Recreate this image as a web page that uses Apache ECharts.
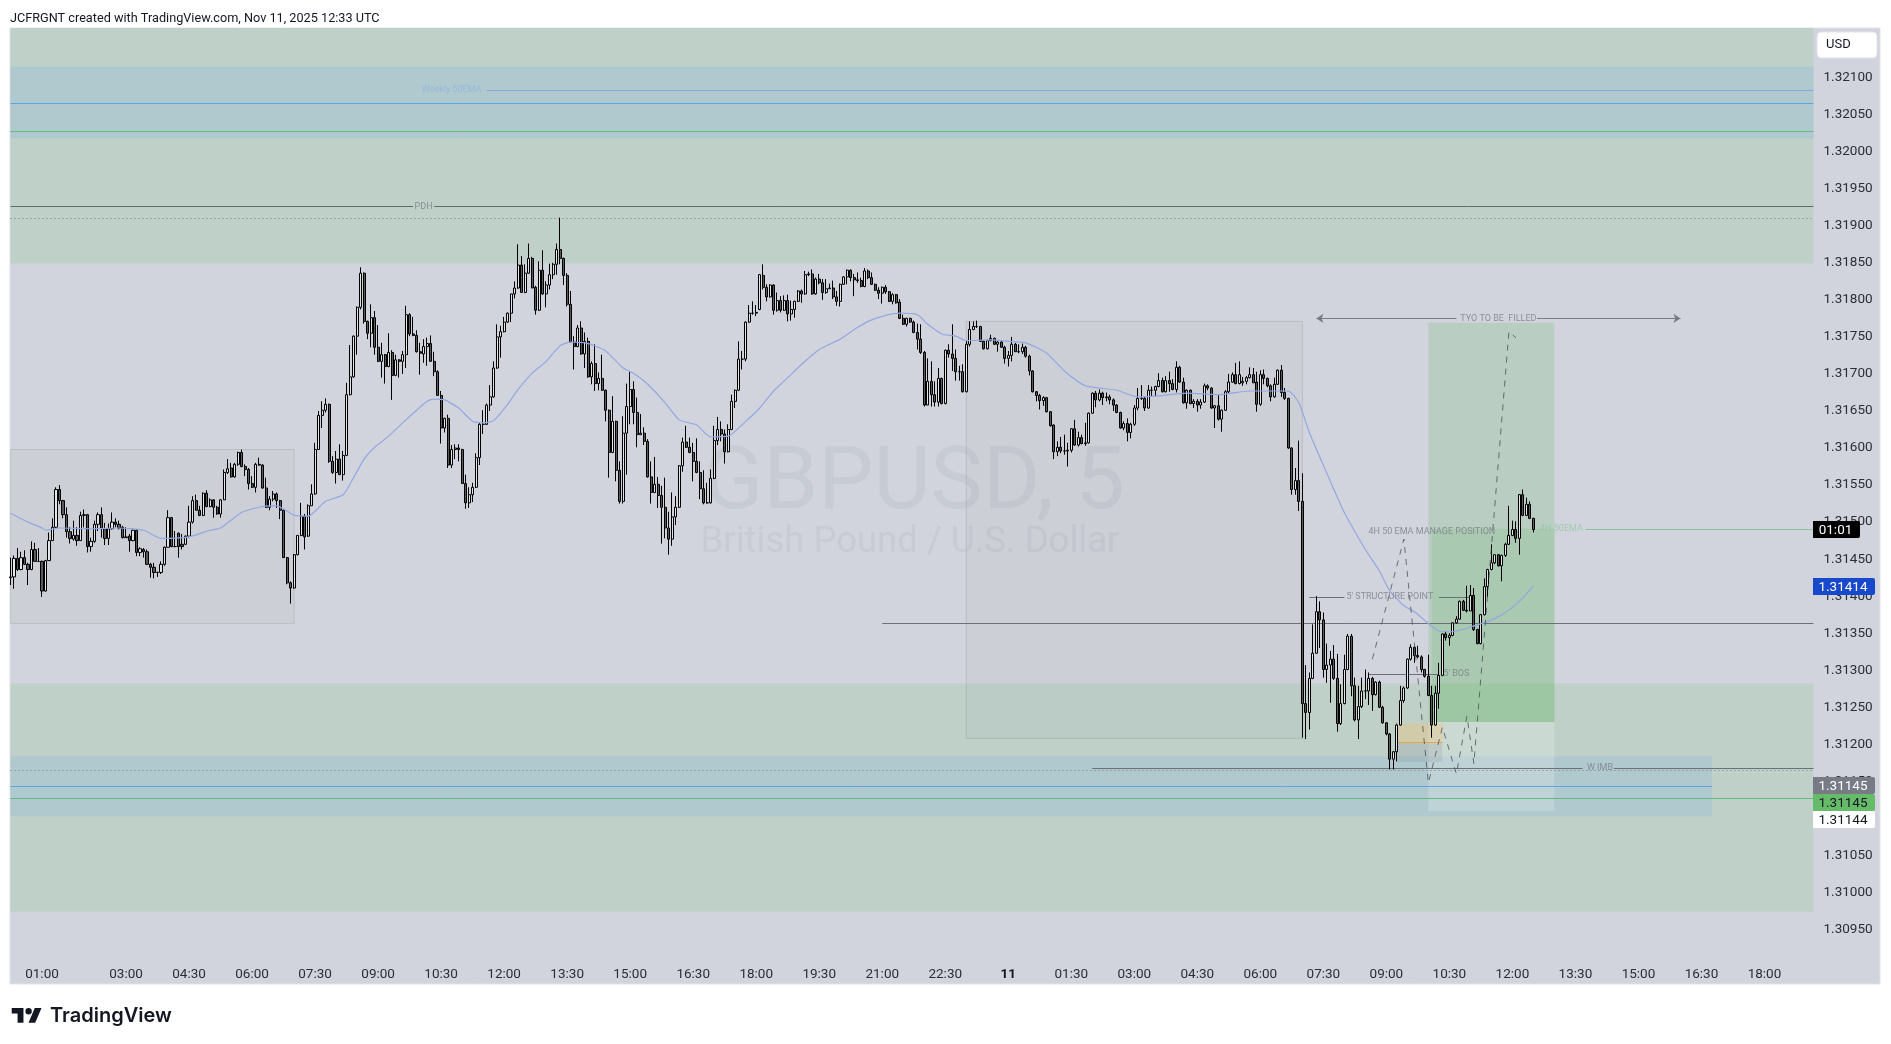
<!DOCTYPE html>
<html>
<head>
<meta charset="utf-8">
<style>html,body{margin:0;padding:0;background:#fff}#chart{width:1891px;height:1044px}</style>
<script src="https://cdn.jsdelivr.net/npm/echarts@6/dist/echarts.min.js"></script>
</head>
<body>
<div id="chart"></div>
<script>
// All prices below are points (0.00001) above this base price.
const PRICE_BASE = 1.31;
// Candle rows: [open, high, low, close]
const candlesMonEarly = [
[425,452,415,426],[426,455,410,451],[451,465,434,436],[436,460,435,452],[452,462,442,443],[443,445,415,436],[436,474,435,463],[463,472,447,447],[447,465,446,447],[447,448,399,407],
[407,449,406,448],[448,486,448,475],[475,505,475,493],[493,547,492,544],[544,550,524,529],[529,530,505,510],[510,520,479,487],[487,493,471,478],[477,502,475,482],[482,493,468,475],
[475,514,475,509],[509,517,493,510],[510,511,459,467],[467,479,460,474],[474,502,472,497],[497,513,488,510],[510,520,479,491],[491,499,469,478],[478,498,469,491],[491,513,490,500],
[500,505,493,497],[497,502,490,492],[493,495,478,479],[479,493,479,480],[481,484,460,475],[475,490,474,489],[489,490,454,459],[459,466,454,464],[463,465,452,460],[460,463,442,443],
[443,445,425,439],[439,445,424,432],[432,433,426,432],[432,447,430,443],[443,467,441,466],[466,516,466,506],[506,507,466,467],[467,488,466,467],[485,486,452,467],[470,484,463,467],
[470,482,469,481],[481,522,479,500],[500,535,498,529],[529,537,516,516],[516,522,508,509],[509,540,508,539],[539,543,520,521],[521,532,520,530],[530,531,506,520],[520,522,510,511],
[511,531,506,530],[530,571,530,567],[567,585,565,572],[573,580,560,561],[561,580,560,578],[578,595,576,594],[594,598,574,575],[575,578,562,571],[571,573,544,552],[552,562,546,547],
[547,580,540,578]];
const candlesMonMorning = [
[578,587,576,577],[577,578,545,546],[546,560,519,520],[520,535,516,531],[531,542,528,538],[538,540,519,529],[529,530,504,516],[516,517,452,452],[452,453,416,418],[418,420,390,411],
[411,457,410,456],[456,482,455,482],[482,526,481,508],[508,511,463,480],[481,524,480,522],[522,551,522,538],[538,607,537,598],[598,650,598,644],[644,663,627,651],[651,667,648,659],
[659,660,580,582],[582,589,565,567],[567,596,552,585],[585,605,564,564],[564,596,556,590],[590,688,589,672],[672,739,671,696],[696,752,695,751],[751,791,726,790],[790,844,787,836],
[836,837,768,771],[771,772,747,755],[755,794,736,776],[776,785,726,736],[736,766,716,717],[717,742,695,726],[726,727,687,710],[710,755,709,729],[729,732,665,698],[698,726,697,719],
[719,720,695,717],[717,731,700,726],[726,792,708,780],[780,782,751,754],[754,777,751,752],[752,759,729,730],[730,742,699,728],[727,747,715,737],[737,749,711,741],[741,752,717,717],
[717,730,697,703],[703,705,671,671],[671,677,606,627],[627,641,621,640],[640,645,573,577],[577,604,573,598],[598,605,585,600],[600,605,582,598],[598,599,552,552],[552,564,518,526],
[526,547,519,537],[537,553,527,547],[547,593,546,587],[587,634,577,632],[632,651,619,632],[632,660,631,658],[658,685,650,669],[669,717,668,708],[708,767,707,750],[750,765,722,757],
[757,777,756,770],[770,783,769,782]];
const candlesMonMidday = [
[782,808,770,808],[808,825,802,816],[816,875,815,847],[847,859,810,810],[810,848,809,836],[836,876,835,856],[856,858,816,816],[817,819,780,786],[786,852,785,840],[840,867,807,808],
[808,825,790,820],[820,849,814,834],[834,850,828,848],[848,876,834,868],[868,911,848,856],[856,857,820,833],[833,836,791,794],[794,812,742,743],[743,751,706,737],[737,766,736,762],
[762,771,726,727],[727,756,708,744],[744,749,695,696],[696,717,686,714],[714,740,677,687],[687,702,678,694],[694,726,677,678],[678,679,636,651],[651,652,560,594],[594,670,593,636],
[636,637,555,570],[570,582,525,528],[528,643,525,620],[620,687,564,656],[656,703,632,679],[679,690,632,648],[648,668,601,618],[618,646,618,620],[620,628,604,609],[609,612,560,561],
[561,582,525,540],[540,588,539,551],[551,561,519,536],[536,549,471,520],[520,560,478,492],[492,514,456,477],[477,540,468,507],[507,535,496,520],[520,577,519,576],[576,614,568,608],
[608,630,600,601],[601,614,593,594],[594,607,555,582],[582,613,566,567],[567,582,531,545],[545,570,524,526],[526,553,525,526],[526,571,525,559],[559,630,558,610],[610,642,604,625],
[625,636,609,619],[619,625,579,595],[595,632,594,625],[625,672,624,663],[663,679,654,678],[678,744,677,720],[720,731,706,720],[720,771,717,770],[770,793,769,782],[782,798,780,782],
[782,793,778,783]];
const candlesMonEvening = [
[787,835,786,834],[833,848,814,817],[817,821,798,804],[804,821,803,820],[820,821,780,786],[786,810,784,799],[799,805,783,786],[786,806,785,799],[799,807,771,781],[781,799,772,787],
[787,799,776,798],[798,813,797,812],[812,814,796,808],[808,839,807,834],[834,838,832,835],[835,841,807,808],[808,830,807,828],[828,835,821,823],[823,828,800,810],[810,828,808,815],
[815,822,815,816],[816,826,801,804],[804,812,792,798],[798,822,791,821],[821,832,820,831],[831,841,821,840],[840,841,825,830],[830,835,805,827],[827,837,823,826],[826,830,817,818],
[818,843,817,839],[839,841,828,830],[830,837,820,821],[821,822,812,813],[813,817,801,809],[809,818,795,817],[817,820,808,811],[811,812,797,798],[798,809,794,807],[807,808,795,796],
[797,801,774,775],[775,780,766,767],[767,776,764,775],[775,776,769,770],[770,772,755,756],[756,768,733,747],[747,767,727,729],[729,731,656,658],[658,721,658,690],[690,717,656,672],
[672,690,656,662],[662,708,656,694],[694,695,659,660],[660,733,659,732],[732,740,722,727],[727,767,704,721],[721,733,691,703],[703,711,691,703],[703,713,675,676],[676,745,675,740],
[740,771,737,760],[760,771,759,764],[764,772,762,764],[764,765,743,744],[744,745,733,734],[734,746,733,745],[745,753,744,748],[748,749,739,740],[740,744,730,743],[743,745,735,736],
[736,738,714,721]];
const candlesTueNight = [
[721,731,710,725],[725,750,717,740],[740,742,730,730],[730,740,728,730],[730,741,727,736],[736,738,722,724],[724,726,698,704],[704,705,675,676],[676,677,663,671],[671,673,652,664],
[664,670,657,668],[668,669,648,649],[649,650,629,630],[631,632,585,595],[595,609,589,601],[601,615,593,596],[596,618,591,596],[596,607,575,597],[597,627,594,626],[626,638,603,604],
[604,622,602,614],[614,618,605,606],[606,634,603,607],[607,648,606,647],[647,675,646,674],[674,677,655,665],[665,679,663,674],[674,676,658,668],[668,675,663,669],[669,672,659,665],
[665,667,650,658],[658,659,647,648],[648,649,626,627],[627,636,624,633],[633,640,609,621],[621,634,613,632],[632,658,630,654],[654,681,651,667],[667,685,665,667],[667,670,650,654],
[654,685,653,678],[678,683,669,678],[678,684,670,683],[683,701,682,691],[691,695,675,676],[676,697,675,691],[691,703,676,687],[687,693,678,679],[679,717,675,709],[709,711,688,689],
[689,695,660,661],[661,679,653,678],[678,679,659,660],[660,666,654,663],[663,666,649,658],[658,666,653,662],[662,687,661,684],[684,686,678,681],[681,682,653,654],[654,658,627,657],
[657,672,637,639],[639,652,622,651],[651,678,650,676],[676,700,673,689],[689,702,688,699],[699,715,686,687],[687,717,686,699],[688,696,684,690],[690,697,686,695],[695,709,694,699],
[699,708,688,688],[689,703,649,659],[659,705,657,699],[699,706,686,694],[694,695,682,684],[684,686,663,669],[669,695,668,686],[686,706,685,705],[705,712,669,675],[675,681,665,667],
[667,668,599,600]];
const candlesTueMorning = [
[600,601,537,544],[544,573,537,556],[556,610,515,528],[528,566,209,255],[255,307,207,243],[243,297,220,289],[289,362,288,323],[323,400,322,379],[379,393,330,368],[368,378,290,301],
[301,336,283,307],[307,326,256,315],[315,334,287,289],[289,322,217,228],[228,281,226,255],[255,321,254,301],[301,349,300,346],[346,349,265,279],[279,290,231,233],[233,279,207,251],
[251,290,249,272],[272,301,261,272],[272,297,253,289],[289,291,245,267],[267,285,266,284],[284,286,249,250],[250,252,228,229],[229,230,212,214],[214,215,166,180],[180,191,166,190],
[190,228,177,226],[226,279,225,259],[259,278,256,276],[276,316,275,315],[315,335,313,331],[331,332,310,320],[320,333,316,318],[318,320,297,301],[301,302,290,292],[292,321,265,266],
[266,279,209,226],[226,279,225,269],[269,310,248,293],[293,350,292,349],[349,353,340,344],[344,350,333,347],[347,365,346,364],[364,373,363,369],[369,394,368,393],[393,395,380,381],
[381,414,378,380],[380,415,380,401],[401,411,353,355],[355,356,335,336],[336,376,335,375],[375,424,374,413],[413,437,399,436],[436,470,435,445],[445,456,443,456],[456,457,440,441],
[441,456,420,455],[455,472,453,470],[470,522,469,482],[482,502,481,490],[490,501,472,478],[478,538,456,537],[537,544,508,509],[509,533,508,524],[524,528,504,505],[505,506,486,490]];

// Moving average: [bar number, points above base]
const emaPoints = [[0,512],[5,500],[9,492],[10,489],[14,492],[23,491],[31,492],[38,489],[43,478],[51,480],[57,489],[60,492],[66,513],[71,520],[74,522],[76,522],[79,515],[81,509],[85,508],[90,528],[95,537],[98,560],[101,585],[104,601],[108,616],[112,634],[116,651],[119,663],[121,666],[124,665],[128,654],[132,636],[135,634],[138,637],[142,659],[145,679],[149,701],[153,717],[157,738],[160,743],[165,741],[170,731],[175,708],[178,701],[182,686],[187,661],[191,638],[196,631],[200,615],[205,616],[210,636],[214,654],[218,677],[222,695],[226,713],[231,733],[237,747],[241,760],[245,771],[250,779],[254,782],[259,780],[262,767],[266,754],[270,751],[273,745],[280,746],[285,744],[290,742],[296,728],[301,704],[307,684],[316,678],[322,669],[327,670],[336,674],[345,672],[354,677],[365,677],[368,661],[371,621],[377,555],[381,513],[387,463],[391,434],[394,407],[398,387],[401,379],[404,367],[408,353],[412,352],[418,360],[422,366],[426,375],[431,393],[435,414]];
// Dashed projected path drawn on the chart: [bar number, points above base]
const projectionPoints = [[389,315],[398,477],[405,148],[409,223],[413,160],[416,238],[418,174],[428,757],[430,749]];

const timeTicks = ["10 01:00","10 03:00","10 04:30","10 06:00","10 07:30","10 09:00","10 10:30","10 12:00","10 13:30","10 15:00","10 16:30","10 18:00","10 19:30","10 21:00","10 22:30","11 00:00","11 01:30","11 03:00","11 04:30","11 06:00","11 07:30","11 09:00","11 10:30","11 12:00","11 13:30","11 15:00","11 16:30","11 18:00"];
const priceTicks = [1.30950,1.31000,1.31050,1.31100,1.31150,1.31200,1.31250,1.31300,1.31350,1.31400,1.31450,1.31500,1.31550,1.31600,1.31650,1.31700,1.31750,1.31800,1.31850,1.31900,1.31950,1.32000,1.32050,1.32100];

const FIRST = "10 00:15", LAST = "11 19:10";
// Price zones: [kind, from, to, high, low]
const zoneRows = [
 ["supply", FIRST, LAST, 1167, 849],
 ["band", FIRST, LAST, 1115, 1018],
 ["demand", FIRST, LAST, 282, -26],
 ["band", FIRST, "11 16:45", 184, 103],
 ["box", FIRST, "10 07:00", 598, 363],
 ["box", "10 23:00", "11 07:00", 771, 208],
 ["long", "11 10:00", "11 13:00", 769, 230],
 ["longActive", "11 10:05", "11 13:00", 491, 230],
 ["short", "11 10:00", "11 13:00", 230, 110],
 ["orderBlock", "11 09:15", "11 10:20", 228, 203],
 ["orderBlockLow", "11 09:15", "11 10:20", 203, 176]
];
// Horizontal levels: [kind, from, to, price]
const levelRows = [
 ["weekly", "10 11:35", LAST, 1083],
 ["blue", FIRST, LAST, 1065],
 ["green", FIRST, LAST, 1028],
 ["dark", FIRST, "10 09:50", 926],
 ["dark", "10 10:20", LAST, 926],
 ["dots", FIRST, LAST, 910],
 ["grey", "10 21:00", LAST, 363],
 ["ema4h", "11 13:45", LAST, 491],
 ["grey", "11 07:10", "11 08:00", 399],
 ["grey", "11 10:15", "11 11:00", 399],
 ["grey", "11 08:35", "11 10:15", 295],
 ["yellow", "11 09:15", "11 10:20", 203],
 ["grey", "11 02:00", "11 13:40", 168],
 ["grey", "11 14:25", LAST, 168],
 ["dots", FIRST, LAST, 165],
 ["blue", FIRST, "11 16:45", 143],
 ["green", FIRST, LAST, 127]
];
// Arrowed span: [from, to, price]
const arrowRows = [["11 07:20","11 10:40",775,"left"],["11 12:35","11 16:00",775,"right"]];
// Text on the chart: [text, time, price, kind]
const noteRows = [
 ["Weekly 50EMA","10 10:45",1083,"weekly"],
 ["PDH","10 10:05",926,"note"],
 ["TYO TO BE  FILLED","11 11:40",775,"note"],
 ["4H 50 EMA MANAGE POSITION","11 10:05",487,"note"],
 ["4H 50EMA","11 13:10",491,"ema4h"],
 ["5' STRUCTURE POINT","11 09:05",399,"note"],
 ["5' BOS","11 10:40",295,"note"],
 ["W IMB","11 14:05",168,"note"]
];

const zoneFill = {
 supply:{color:"#bfd0c9"}, band:{color:"rgba(152,190,214,0.42)"}, demand:{color:"#bfd0c9"},
 box:{color:"rgba(120,123,134,0.055)",borderColor:"rgba(120,123,134,0.22)",borderWidth:1},
 long:{color:"rgba(76,175,80,0.18)"}, longActive:{color:"rgba(76,175,80,0.14)"},
 short:{color:"rgba(255,255,255,0.2)"}, orderBlock:{color:"rgba(255,190,90,0.28)"}, orderBlockLow:{color:"rgba(120,123,134,0.16)"}
};
const levelStyle = {
 weekly:{color:"#82a9dc",width:1,type:"solid"}, blue:{color:"#5ea4ea",width:1,type:"solid"}, green:{color:"#5fbb7e",width:1,type:"solid"},
 dark:{color:"#5f6f68",width:1,type:"solid"}, dots:{color:"#6f7f78",width:1,type:[1,3]}, grey:{color:"#6e7078",width:1,type:"solid"},
 ema4h:{color:"#8ac39b",width:1,type:"solid"}, yellow:{color:"#e2a84a",width:1,type:"solid"}
};
const noteColor = {weekly:"#93b3e0", note:"#7a7d85", ema4h:"#93c9a3"};

const px = v => +(PRICE_BASE + v/1e5).toFixed(5);
const rows = [].concat(candlesMonEarly,candlesMonMorning,candlesMonMidday,candlesMonEvening,candlesTueNight,candlesTueMorning);

const categories = [];
for (let m = 15; m <= 43*60+10; m += 5) {
  const d = m >= 1440 ? 11 : 10, mm = m % 1440;
  categories.push(d + " " + String(Math.floor(mm/60)).padStart(2,"0") + ":" + String(mm%60).padStart(2,"0"));
}
const tickSet = new Set(timeTicks);
const slot = s => categories.indexOf(s);

const series = [];
series.push({
  type:"line", data:[], z:1, silent:true,
  markArea:{silent:true, animation:false, data: zoneRows.map(([k,a,b,h,l]) => [
    {xAxis:slot(a), yAxis:px(h), itemStyle:zoneFill[k]},
    {xAxis:slot(b), yAxis:px(l)}
  ])}
});
series.push({
  type:"line", data:[], z:2, silent:true,
  markLine:{silent:true, animation:false, symbol:"none", label:{show:false},
    data: levelRows.map(([k,a,b,p]) => [
      {xAxis:slot(a), yAxis:px(p), lineStyle:levelStyle[k]},
      {xAxis:slot(b), yAxis:px(p)}
    ]).concat(arrowRows.map(([a,b,p,side]) => [
      {xAxis:slot(a), yAxis:px(p), symbol: side==="left"?"arrow":"none", symbolSize:7, lineStyle:{color:"#787b86",width:1,type:"solid"}},
      {xAxis:slot(b), yAxis:px(p), symbol: side==="right"?"arrow":"none", symbolSize:7}
    ]))}
});
series.push({
  type:"candlestick", z:5, barWidth:2.6, large:false, silent:true,
  itemStyle:{color:"#e4e5e8",color0:"#5a5a5a",borderColor:"#000",borderColor0:"#000",borderWidth:1},
  data: rows.map(r => [px(r[0]),px(r[3]),px(r[2]),px(r[1])])
});
series.push({
  type:"line", z:6, silent:true, symbol:"none", smooth:0.2,
  lineStyle:{color:"#93a8e0",width:1.2},
  data: emaPoints.map(p => [p[0], px(p[1])])
});
series.push({
  type:"line", z:7, silent:true, symbol:"none",
  lineStyle:{color:"rgba(70,72,78,0.75)",width:1,type:[6,6]},
  data: projectionPoints.map(p => [p[0], px(p[1])])
});
series.push({
  type:"scatter", z:8, silent:true, symbolSize:0,
  data: noteRows.map(([t,a,p,k]) => ({
    value:[slot(a), px(p)],
    label:{show:true, position:"inside", formatter:t, color:noteColor[k], fontSize:9, fontFamily:"Roboto", letterSpacing:0.6}
  }))
});

const tag = (y,h,w,fill,text,txt) => [
  {type:"rect", z:100, shape:{x:1813,y:y,width:w,height:h,r:[0,2,2,0]}, style:{fill:fill}},
  {type:"text", z:101, x:1813+w/2-1, y:y+h/2+1, style:{text:text,fill:txt,font:"13.5px Roboto",textAlign:"center",textVerticalAlign:"middle"}}
];

echarts.graphic.registerShape("tvLogo", echarts.graphic.extendPath("M14 22H7V11H0V4h14v18zM28 22h-8l7.5-18h8L28 22z", {}));

const chart = echarts.init(document.getElementById("chart"), null, {renderer:"canvas"});
chart.setOption({
  animation:false,
  backgroundColor:"#fff",
  grid:{left:10.5, right:77.5, top:28, height:923, containLabel:false},
  xAxis:{
    type:"category", data:categories, boundaryGap:false,
    axisLine:{show:false}, axisTick:{show:false}, splitLine:{show:false},
    axisLabel:{
      interval:(i,v)=>tickSet.has(v), margin:14, hideOverlap:false,
      color:"#2a2e39", fontSize:13.5, fontFamily:"Roboto", padding:[3,0,0,0],
      formatter:v => v==="11 00:00" ? "{b|11}" : v.slice(3),
      rich:{b:{fontWeight:"bold",fontSize:13.5,color:"#131722",fontFamily:"Roboto"}}
    }
  },
  yAxis:{
    type:"value", position:"right", scale:true, min:px(-79), max:px(1167),
    axisLine:{show:false}, axisTick:{show:false}, splitLine:{show:false},
    axisLabel:{customValues:priceTicks, margin:10, color:"#2a2e39", fontSize:13.5, fontFamily:"Roboto", padding:[3,0,0,0], formatter:v=>v.toFixed(5)}
  },
  series:series,
  graphic:[
    {type:"rect", z:-10, shape:{x:10,y:28,width:1870,height:956}, style:{fill:"#d1d4dc",stroke:"#e0e3eb",lineWidth:1}},
    {type:"text", z:-5, x:914, y:486, style:{text:"GBPUSD, 5",fill:"rgba(120,123,134,0.10)",font:"88px Roboto",textAlign:"center",textVerticalAlign:"middle"}},
    {type:"text", z:-5, x:910, y:543, style:{text:"British Pound / U.S. Dollar",fill:"rgba(120,123,134,0.10)",font:"36.5px Roboto",textAlign:"center",textVerticalAlign:"middle"}},
    {type:"text", z:50, x:10, y:18.5, style:{text:"JCFRGNT created with TradingView.com, Nov 11, 2025 12:33 UTC",fill:"#131722",font:"12.7px Roboto",textVerticalAlign:"middle"}},
    {type:"rect", z:50, shape:{x:1817,y:32,width:60,height:26,r:4}, style:{fill:"#fff",stroke:"#e0e3eb",lineWidth:1}},
    {type:"text", z:51, x:1826, y:45, style:{text:"USD",fill:"#131722",font:"13px Roboto",textVerticalAlign:"middle"}},
    ...tag(521,17,47,"#000","01:01","#fff"),
    ...tag(578,17,62,"#1848cc","1.31414","#fff"),
    ...tag(777,17,62,"#787b86","1.31145","#fff"),
    ...tag(794,17,62,"#66bb6a","1.31145","#131722"),
    ...tag(811,17,62,"#fff","1.31144","#131722"),
    {type:"tvLogo", z:50, x:11.7, y:1004.6, scaleX:0.84, scaleY:0.82, style:{fill:"#131722"}},
    {type:"circle", z:50, shape:{cx:28.6,cy:1011.2,r:3.2}, style:{fill:"#131722"}},
    {type:"text", z:50, x:50, y:1016, style:{text:"TradingView",fill:"#131722",font:"600 20px Inter",textVerticalAlign:"middle"}}
  ]
});
</script>
</body>
</html>
